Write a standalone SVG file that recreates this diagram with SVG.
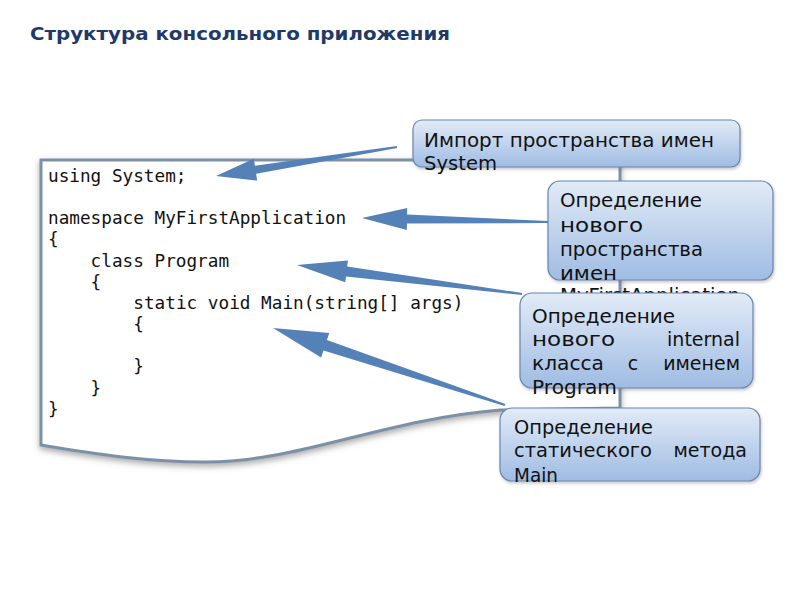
<svg xmlns="http://www.w3.org/2000/svg" width="800" height="600" viewBox="0 0 800 600">
<defs>
<linearGradient id="boxg" x1="0" y1="0" x2="0" y2="1">
<stop offset="0" stop-color="#e2ebf7"/>
<stop offset="1" stop-color="#9fbce3"/>
</linearGradient>
<filter id="sh" x="-10%" y="-10%" width="120%" height="130%">
<feDropShadow dx="0" dy="3" stdDeviation="3" flood-color="#555" flood-opacity="0.5"/>
</filter>
<filter id="bsh" x="-10%" y="-10%" width="120%" height="130%">
<feDropShadow dx="1" dy="2" stdDeviation="1.5" flood-color="#667" flood-opacity="0.35"/>
</filter>
<clipPath id="ovf"><rect x="548" y="280" width="225" height="13"/></clipPath>
</defs>
<style>
.title{font-family:"DejaVu Sans",sans-serif;font-weight:bold;font-size:18px;fill:#1f3a68}
.code{font-family:"DejaVu Sans Mono",monospace;font-size:17.7px;fill:#111}
.box{fill:url(#boxg);stroke:#6a86ab;stroke-width:1.2}
.lbl{font-family:"DejaVu Sans",sans-serif;font-size:19px;fill:#111}
.arrow{fill:#5481b8}
</style>
<rect width="800" height="600" fill="#ffffff"/>
<text class="title" x="30" y="40" textLength="420" lengthAdjust="spacingAndGlyphs">Структура консольного приложения</text>

<g id="code-frame">
<path d="M41,160 H620 V408 L500,410 C380,420 300,462 205,462 C150,462 100,455 41,445 Z" fill="#ffffff" stroke="#7b91a7" stroke-width="3" filter="url(#sh)"/>
<g class="code">
<text x="48" y="181.7">using System;</text>
<text x="48" y="224">namespace MyFirstApplication</text>
<text x="48" y="245.3">{</text>
<text x="90.6" y="266.5">class Program</text>
<text x="90.6" y="287.7">{</text>
<text x="133.3" y="308.9">static void Main(string[] args)</text>
<text x="133.3" y="330">{</text>
<text x="133.3" y="372.4">}</text>
<text x="90.6" y="393.6">}</text>
<text x="48" y="414.8">}</text>
</g>
</g>

<g id="connectors">
<polygon class="arrow" points="396.8,146.0 254.9,165.8 253.8,158.8 216,176 257.2,180.6 256.1,173.7 397.2,148.0"/>
<polygon class="arrow" points="548,221 407.1,214.5 407.2,208 362,218 406.8,230 406.9,223.5 548,223"/>
<polygon class="arrow" points="522.1,293 347.2,266.4 348,260.5 297,265 345.2,282.3 346,276.4 521.9,295"/>
<polygon class="arrow" points="505.4,403.9 326.9,340.1 329.3,333 273,328 321.1,357.6 323.5,350.5 504.6,406.1"/>
</g>

<g id="box-import">
<rect class="box" x="413" y="120" width="327" height="47" rx="9" filter="url(#bsh)"/>
<text class="lbl" x="424" y="146.5" textLength="290" lengthAdjust="spacingAndGlyphs">Импорт пространства имен</text>
<text class="lbl" x="424" y="170" textLength="73" lengthAdjust="spacingAndGlyphs">System</text>
</g>

<g id="box-namespace">
<rect class="box" x="548" y="181" width="225" height="99" rx="12" filter="url(#bsh)"/>
<text class="lbl" x="560" y="207" textLength="142" lengthAdjust="spacingAndGlyphs">Определение</text>
<text class="lbl" x="560" y="231.5" textLength="83" lengthAdjust="spacingAndGlyphs">нового</text>
<text class="lbl" x="560" y="256" textLength="143" lengthAdjust="spacingAndGlyphs">пространства</text>
<text class="lbl" x="560" y="280" textLength="57" lengthAdjust="spacingAndGlyphs">имен</text>
<text class="lbl" x="560" y="301.5" textLength="180" lengthAdjust="spacingAndGlyphs" clip-path="url(#ovf)">MyFirstApplication</text>
</g>

<g id="box-class">
<rect class="box" x="520" y="293" width="233" height="95" rx="12" filter="url(#bsh)"/>
<text class="lbl" x="532" y="322.5" textLength="143" lengthAdjust="spacingAndGlyphs">Определение</text>
<text class="lbl" x="532" y="345.5" textLength="83" lengthAdjust="spacingAndGlyphs">нового</text>
<text class="lbl" x="740" y="345.5" text-anchor="end">internal</text>
<text class="lbl" x="532" y="370" textLength="72" lengthAdjust="spacingAndGlyphs">класса</text>
<text class="lbl" x="633" y="370" text-anchor="middle">с</text>
<text class="lbl" x="740" y="370" text-anchor="end">именем</text>
<text class="lbl" x="532" y="393.5" textLength="85" lengthAdjust="spacingAndGlyphs">Program</text>
</g>

<g id="box-main">
<rect class="box" x="500" y="408" width="260" height="73" rx="12" filter="url(#bsh)"/>
<text class="lbl" x="514" y="434" textLength="139" lengthAdjust="spacingAndGlyphs">Определение</text>
<text class="lbl" x="514" y="457" textLength="138" lengthAdjust="spacingAndGlyphs">статического</text>
<text class="lbl" x="747" y="457" text-anchor="end">метода</text>
<text class="lbl" x="514" y="481.5" textLength="44" lengthAdjust="spacingAndGlyphs">Main</text>
</g>
</svg>
